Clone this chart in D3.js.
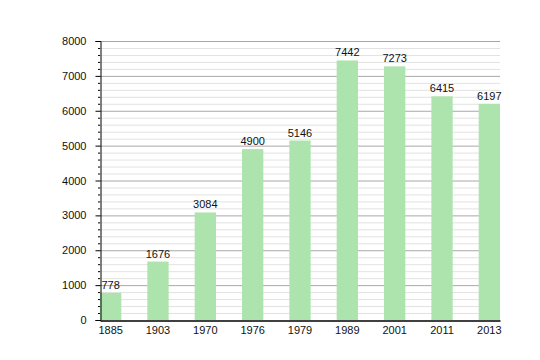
<!DOCTYPE html>
<html><head><meta charset="utf-8">
<script src="https://cdn.jsdelivr.net/npm/d3@7"></script>
<style>body{margin:0;background:#fff}svg{display:block}text{font-family:"Liberation Sans",Arial,sans-serif}</style>
</head><body><svg id="c" width="540" height="360"></svg>
<script>
const years = ["1885","1903","1970","1976","1979","1989","2001","2011","2013"];
const population = [778,1676,3084,4900,5146,7442,7273,6415,6197];
const yTicks = [0,1000,2000,3000,4000,5000,6000,7000,8000];

(function(){
const svg = d3.select("#c");
const mLeft = 100, mRight = 500, mTop = 41, mBottom = 320;
const x = d3.scaleBand().domain(years).range([mLeft, mRight]).paddingInner(0.55).paddingOuter(0);
const y = d3.scaleLinear().domain([0, 8000]).range([mBottom, mTop]);

const minor = d3.range(0, 8001, 200).filter(v => v % 1000 !== 0);
svg.append("g").selectAll("line").data(minor).join("line")
  .attr("x1", mLeft).attr("x2", mRight).attr("y1", d => y(d) + 0.5).attr("y2", d => y(d) + 0.5)
  .attr("stroke", "#e2e2e2").attr("stroke-width", 1);
svg.append("g").selectAll("line").data(yTicks.slice(1)).join("line")
  .attr("x1", mLeft).attr("x2", mRight).attr("y1", d => y(d) + 0.5).attr("y2", d => y(d) + 0.5)
  .attr("stroke", "#a8a8a8").attr("stroke-width", 1);

svg.append("g").selectAll("rect").data(population).join("rect")
  .attr("x", (d, i) => x(years[i])).attr("width", x.bandwidth())
  .attr("y", d => y(d)).attr("height", d => y(0) - y(d))
  .attr("fill", "#ade3ad");

svg.append("g").selectAll("text").data(population).join("text")
  .attr("x", (d, i) => x(years[i]) + x.bandwidth() / 2).attr("y", d => y(d) - 4)
  .attr("text-anchor", "middle").attr("font-size", 11).attr("fill", "#111").text(d => d);

const ya = svg.append("g").attr("transform", `translate(${mLeft + 0.5},0)`)
  .call(d3.axisLeft(y).tickValues(yTicks).tickSize(5).tickPadding(9).tickFormat(d3.format("d")));
ya.select(".domain").attr("stroke", "#000");
ya.selectAll(".tick text").attr("font-size", 11).attr("fill", "#111").attr("font-family", '"Liberation Sans",Arial,sans-serif');
svg.append("g").selectAll("line").data(minor).join("line")
  .attr("x1", mLeft - 2).attr("x2", mLeft).attr("y1", d => y(d) + 0.5).attr("y2", d => y(d) + 0.5)
  .attr("stroke", "#000");

const xa = svg.append("g").attr("transform", `translate(0,${mBottom + 0.5})`)
  .call(d3.axisBottom(x).tickSize(0).tickPadding(6));
xa.select(".domain").attr("stroke", "#000").attr("stroke-width", 1.5);
xa.selectAll(".tick text").attr("font-size", 11).attr("fill", "#111").attr("font-family", '"Liberation Sans",Arial,sans-serif');
})();
</script></body></html>
